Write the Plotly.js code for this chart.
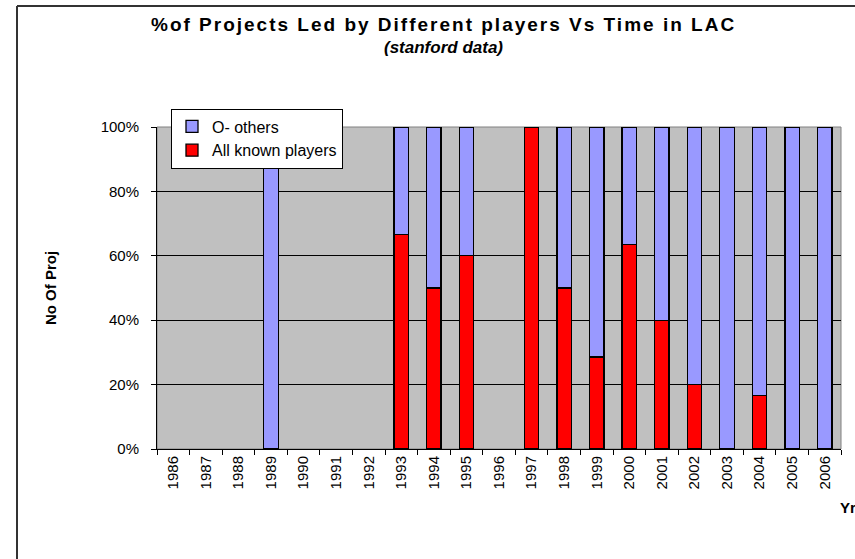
<!DOCTYPE html>
<html>
<head>
<meta charset="utf-8">
<script src="https://cdn.plot.ly/plotly-3.0.1.min.js"></script>
<style>
html,body{margin:0;padding:0;background:#fff;}
#chart{width:855px;height:559px;}
#chart .annotation[data-index="0"] text{letter-spacing:2px;}
</style>
</head>
<body>
<div id="chart"></div>
<script>
const years = ['1986','1987','1988','1989','1990','1991','1992','1993','1994','1995','1996','1997','1998','1999','2000','2001','2002','2003','2004','2005','2006'];
const knownPct = [null,null,null,0,null,null,null,66.7,50,60,null,100,50,28.6,63.6,40,20,0,16.7,0,0];
const othersPct = [null,null,null,100,null,null,null,33.3,50,40,null,0,50,71.4,36.4,60,80,100,83.3,100,100];
const yTicks = [0,20,40,60,80,100];
const yTickLabels = ['0%','20%','40%','60%','80%','100%'];
const titleText = '%of Projects Led by Different players Vs Time in LAC';
const subtitleText = '(stanford data)';

const L = 157, R = 14, T = 127, B = 110, W = 855, H = 559;
const pw = W - L - R, ph = H - T - B;
const px = v => (v - L) / pw;
const py = v => (H - B - v) / ph;

const traces = [
  {type:'bar', name:'All known players', x:years, y:knownPct,
   marker:{color:'#ff0000', line:{color:'#000', width:1.3}}, hoverinfo:'x+y'},
  {type:'bar', name:'O- others', x:years, y:othersPct,
   marker:{color:'#9999ff', line:{color:'#000', width:1.3}}, hoverinfo:'x+y'}
];

const layout = {
  width:W, height:H,
  margin:{l:L, r:R, t:T, b:B},
  barmode:'stack', bargap:0.56,
  paper_bgcolor:'#ffffff', plot_bgcolor:'#c0c0c0',
  font:{family:'Liberation Sans, Arial, sans-serif', size:15, color:'#000'},
  xaxis:{type:'category', tickangle:-90, tickson:'boundaries', ticks:'outside', ticklen:5,
         tickcolor:'#000', showline:true, linecolor:'#000', linewidth:1, mirror:false,
         showgrid:false, tickfont:{size:15}, fixedrange:true},
  yaxis:{range:[0,100], tickvals:yTicks, ticktext:yTickLabels, ticks:'outside', ticklen:5,
         tickcolor:'#000', showline:true, linecolor:'#000', linewidth:1,
         showgrid:true, gridcolor:'#000', gridwidth:1, zeroline:false,
         tickfont:{size:15}, ticklabelstandoff:9,
         title:{text:'<b>No Of Proj</b>', font:{size:15}, standoff:40}},
  legend:{x:px(171), y:py(108.5), xanchor:'left', yanchor:'top', traceorder:'reversed',
          bgcolor:'#ffffff', bordercolor:'#000', borderwidth:1, font:{size:16},
          itemwidth:30, tracegroupgap:0},
  annotations:[
    {text:'<b>'+titleText+'</b>', xref:'paper', yref:'paper', x:px(443), y:py(24),
     xanchor:'center', yanchor:'middle', showarrow:false, font:{size:19}},
    {text:'<b><i>'+subtitleText+'</i></b>', xref:'paper', yref:'paper', x:px(443), y:py(48),
     xanchor:'center', yanchor:'middle', showarrow:false, font:{size:17}},
    {text:'<b>Yr</b>', xref:'paper', yref:'paper', x:px(838), y:py(507),
     xanchor:'left', yanchor:'middle', showarrow:false, font:{size:15}}
  ],
  shapes:[
    {type:'rect', xref:'paper', yref:'paper', x0:0, x1:1, y0:0, y1:1,
     line:{color:'#808080', width:1}, fillcolor:'rgba(0,0,0,0)', layer:'below'},
    {type:'line', xref:'paper', yref:'paper', x0:px(17), x1:px(17), y0:py(6), y1:py(562),
     line:{color:'#333', width:2}},
    {type:'line', xref:'paper', yref:'paper', x0:px(17), x1:px(860), y0:py(6), y1:py(6),
     line:{color:'#333', width:2}}
  ]
};

Plotly.newPlot('chart', traces, layout, {displayModeBar:false, staticPlot:true});
</script>
</body>
</html>
